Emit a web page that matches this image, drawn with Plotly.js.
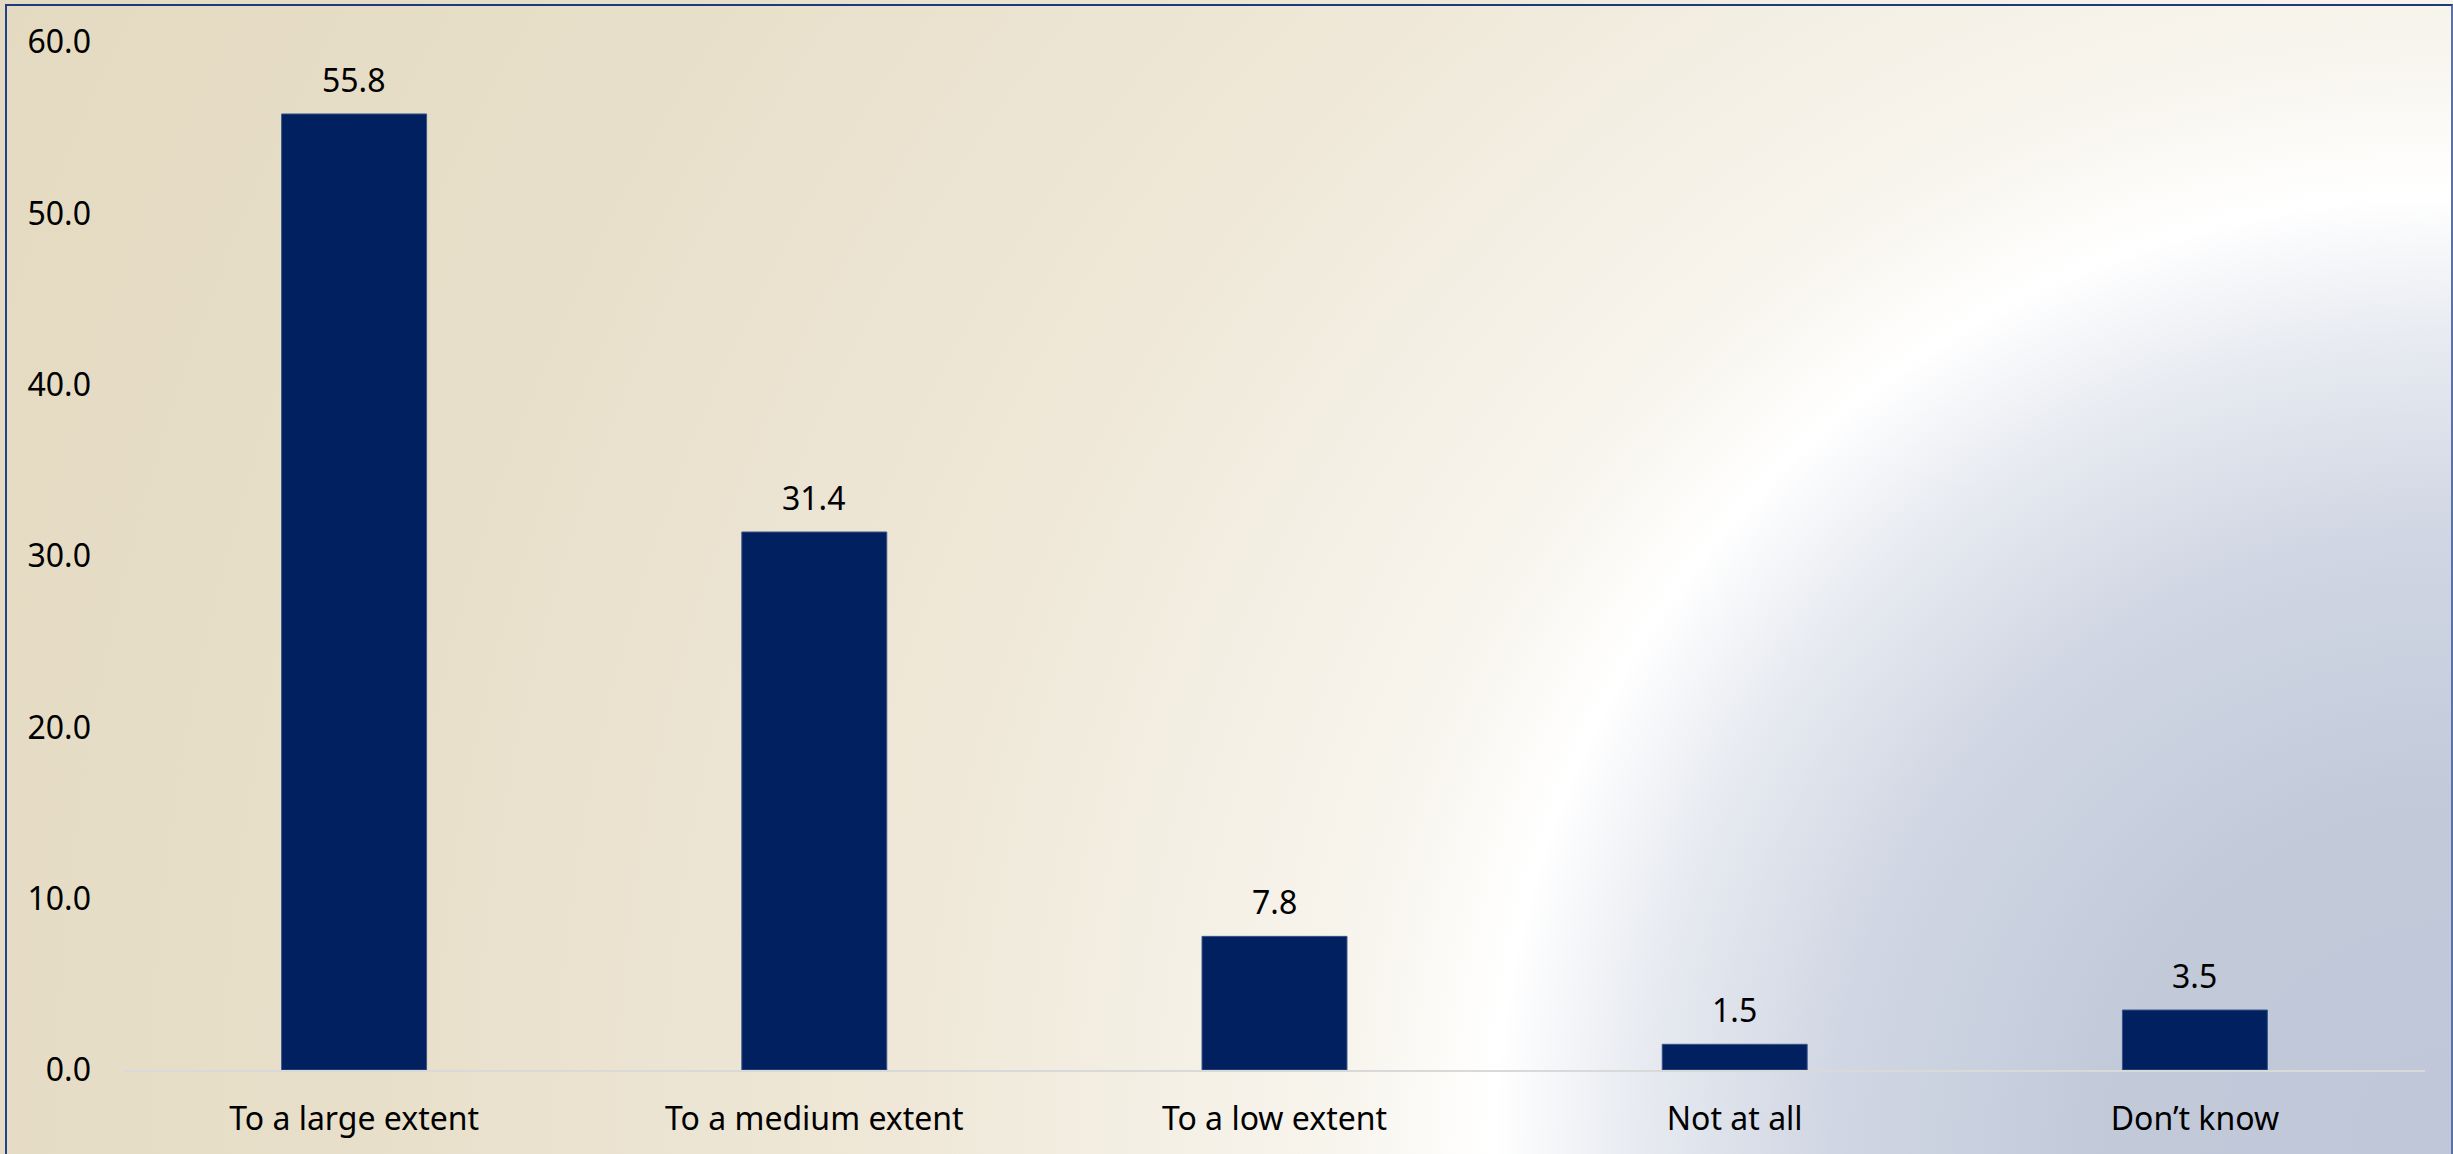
<!DOCTYPE html>
<html>
<head>
<meta charset="utf-8">
<script src="https://cdn.plot.ly/plotly-3.0.1.min.js"></script>
<style>
  html, body { margin: 0; padding: 0; overflow: hidden; width: 2453px; height: 1154px; }
  #wrap { position: relative; width: 2453px; height: 1154px;
    background: radial-gradient(circle at 100% 100%,
      #bfc7d8 0px, #c2cada 350px, #d0d6e3 620px, #e8ebf1 820px, #ffffff 960px,
      #f8f5ee 1100px, #efe8d8 1550px, #e8dfca 2100px, #e4dac1 2720px); }
  #chart { position: absolute; left: 0; top: 0; width: 2453px; height: 1154px; }
  #frame { position: absolute; left: 5px; top: 4px; width: 2444px; height: 1200px;
    border-top: 2px solid #1f3a7c; border-left: 2px solid #23408a; border-right: 2px solid #5a72a8;
    pointer-events: none; }
</style>
</head>
<body>
<div id="wrap">
  <div id="chart"></div>
  <div id="frame"></div>
</div>
<script>
const categories = ["To a large extent", "To a medium extent", "To a low extent", "Not at all", "Don\u2019t know"];
const values = [55.8, 31.4, 7.8, 1.5, 3.5];
const yTickValues = [0, 10, 20, 30, 40, 50, 60];

const font = "Noto Sans, Open Sans, sans-serif";

const trace = {
  type: "bar",
  x: categories,
  y: values,
  marker: { color: "#002060", line: { color: "#3b5488", width: 1 } },
  hoverinfo: "skip"
};

const annotations = categories.map((c, i) => ({
  x: c, y: values[i], xref: "x", yref: "y",
  text: values[i].toFixed(1),
  showarrow: false, yanchor: "bottom", yshift: 11,
  font: { family: font, size: 32, color: "#000000" }
}));

const layout = {
  width: 2453, height: 1154,
  margin: { l: 124, r: 28, t: 42, b: 84, pad: 0 },
  paper_bgcolor: "rgba(0,0,0,0)",
  plot_bgcolor: "rgba(0,0,0,0)",
  showlegend: false,
  bargap: 0.685,
  font: { family: font, size: 32, color: "#000000" },
  xaxis: {
    type: "category",
    showline: true, linecolor: "#d9d9d9", linewidth: 2,
    showgrid: false, zeroline: false, ticks: "",
    ticklabelstandoff: 20,
    tickfont: { family: font, size: 32, color: "#000000" }
  },
  yaxis: {
    range: [0, 60],
    tickvals: yTickValues,
    ticktext: yTickValues.map(v => v.toFixed(1)),
    showline: false, showgrid: false, zeroline: false, ticks: "",
    ticklabelstandoff: 32,
    tickfont: { family: font, size: 32, color: "#000000" }
  },
  annotations: annotations
};

Plotly.newPlot("chart", [trace], layout, { staticPlot: true, displayModeBar: false });
</script>
</body>
</html>
